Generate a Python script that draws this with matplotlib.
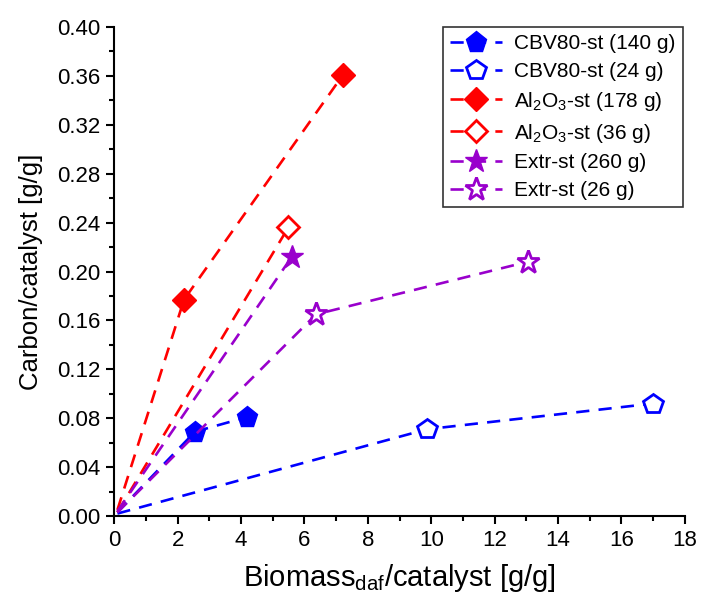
import matplotlib
matplotlib.use("Agg")
import matplotlib.pyplot as plt
from matplotlib.ticker import MultipleLocator, FormatStrFormatter

plt.rcParams['font.family'] = ['Liberation Sans', 'DejaVu Sans']
plt.rcParams['mathtext.fontset'] = 'custom'
plt.rcParams['mathtext.rm'] = 'Liberation Sans'
plt.rcParams['mathtext.it'] = 'Liberation Sans:italic'
plt.rcParams['mathtext.bf'] = 'Liberation Sans:bold'

labels = ["CBV80-st (140 g)", "CBV80-st (24 g)",
          "Al$_2$O$_3$-st (178 g)", "Al$_2$O$_3$-st (36 g)",
          "Extr-st (260 g)", "Extr-st (26 g)"]
x_cbv140 = [0.1, 2.55, 4.2]
y_cbv140 = [0.003, 0.069, 0.081]
x_cbv24 = [0.1, 9.87, 17.0]
y_cbv24 = [0.002, 0.071, 0.092]
x_al178 = [0.1, 2.2, 7.22]
y_al178 = [0.005, 0.177, 0.361]
x_al36 = [0.1, 5.49]
y_al36 = [0.003, 0.236]
x_ex260 = [0.1, 5.6]
y_ex260 = [0.004, 0.212]
x_ex26 = [0.1, 6.37, 13.05]
y_ex26 = [0.003, 0.165, 0.208]

blue = '#0000FF'
red = '#FF0000'
purple = '#9900CC'

fig = plt.figure(figsize=(7.01, 6.0), dpi=100)
ax = fig.add_axes([0.163, 0.14, 0.814, 0.815])

dash = (0, (5, 3.5))
lw = 1.9
me = slice(1, None)
ax.plot(x_cbv140, y_cbv140, color=blue, ls=dash, lw=lw, marker='p', ms=15.5,
        mfc=blue, mec=blue, markevery=me, label=labels[0])
ax.plot(x_cbv24, y_cbv24, color=blue, ls=dash, lw=lw, marker='p', ms=15,
        mfc='white', mec=blue, mew=2, markevery=me, label=labels[1])
ax.plot(x_al178, y_al178, color=red, ls=dash, lw=lw, marker='D', ms=12,
        mfc=red, mec=red, markevery=me, label=labels[2])
ax.plot(x_al36, y_al36, color=red, ls=dash, lw=lw, marker='D', ms=11,
        mfc='white', mec=red, mew=2, markevery=me, label=labels[3])
ax.plot(x_ex260, y_ex260, color=purple, ls=dash, lw=lw, marker='*', ms=17,
        mfc=purple, mec=purple, markevery=me, label=labels[4])
ax.plot(x_ex26, y_ex26, color=purple, ls=dash, lw=lw, marker='*', ms=17,
        mfc='white', mec=purple, mew=2, markevery=me, label=labels[5])

ax.set_xlim(0, 18)
ax.set_ylim(0, 0.40)
ax.xaxis.set_major_locator(MultipleLocator(2))
ax.xaxis.set_minor_locator(MultipleLocator(1))
ax.yaxis.set_major_locator(MultipleLocator(0.04))
ax.yaxis.set_minor_locator(MultipleLocator(0.02))
ax.yaxis.set_major_formatter(FormatStrFormatter('%.2f'))
ax.spines['top'].set_visible(False)
ax.spines['right'].set_visible(False)
for s in ['left', 'bottom']:
    ax.spines[s].set_linewidth(1.5)
ax.tick_params(which='major', direction='out', length=6, width=1.5, labelsize=16, pad=4)
ax.tick_params(which='minor', direction='out', length=3.5, width=1.5)

ax.set_xlabel("Biomass$_{\\mathrm{daf}}$/catalyst [g/g]", fontsize=21, labelpad=8)
ax.set_ylabel("Carbon/catalyst [g/g]", fontsize=18.5, labelpad=10)

leg = ax.legend(loc='upper right', fontsize=15, frameon=True, fancybox=False,
                edgecolor='black', handlelength=2.5, handletextpad=0.6,
                borderpad=0.35, labelspacing=0.42, borderaxespad=0.0,
                bbox_to_anchor=(0.997, 1.0))
leg.get_frame().set_linewidth(1.2)

fig.savefig("out.png", dpi=100)
